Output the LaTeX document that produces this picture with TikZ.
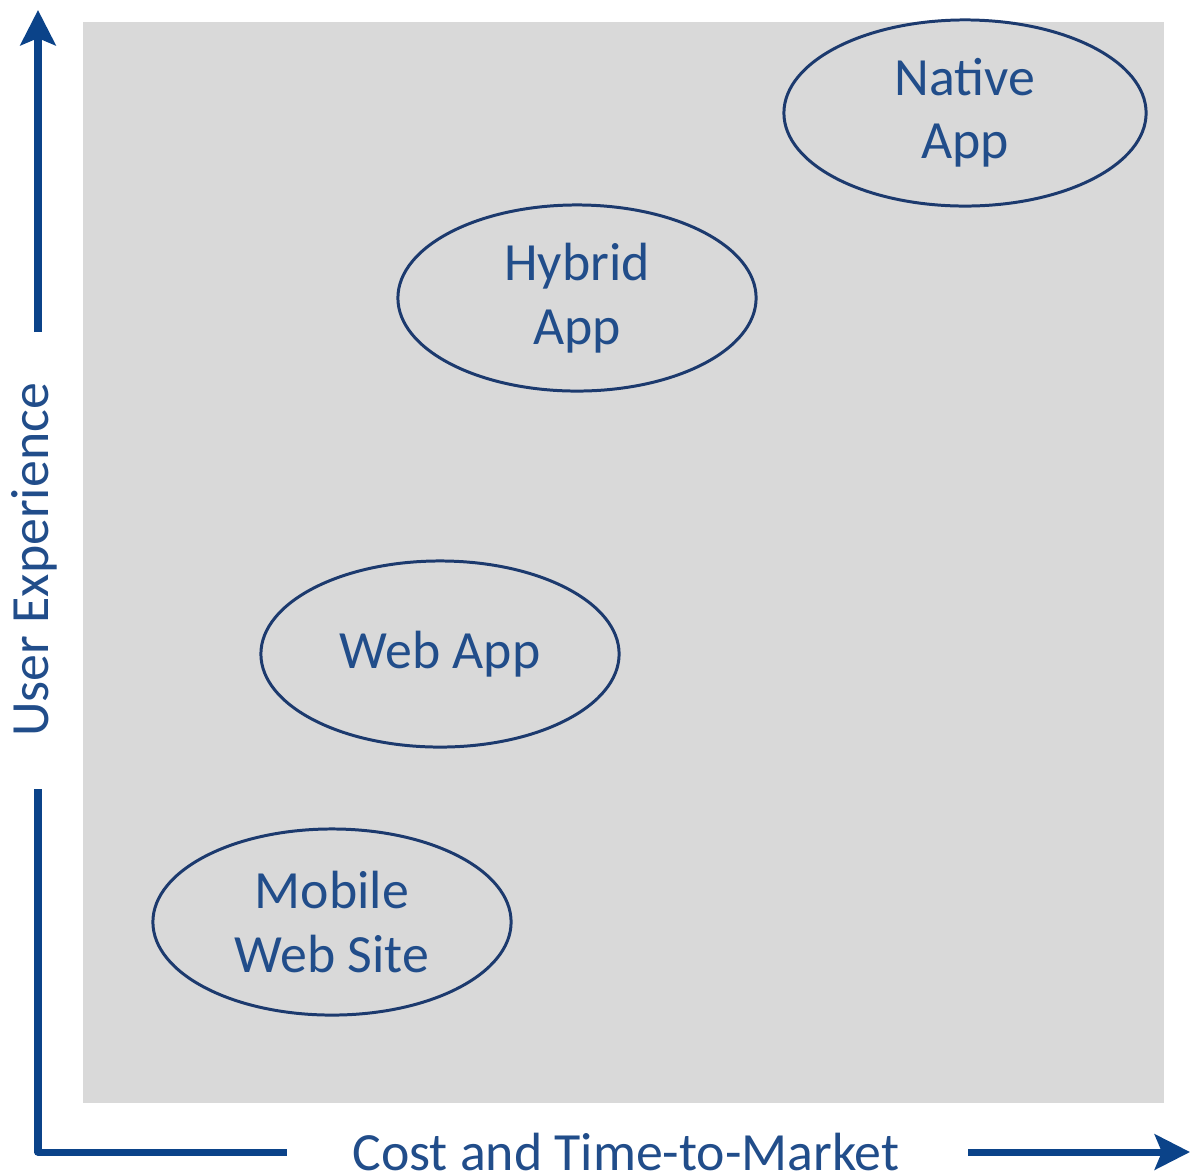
\documentclass[tikz,border=0pt]{standalone}
\usepackage{fontspec}
\setmainfont{Carlito}
\usetikzlibrary{arrows.meta,shapes.geometric}
\definecolor{axisblue}{HTML}{0B4389}
\definecolor{ringblue}{HTML}{1C3A6E}
\definecolor{textblue}{HTML}{214D8A}
\definecolor{panelgray}{HTML}{D9D9D9}
\tikzset{
  axis/.style={draw=axisblue,line width=2pt},
  lbl/.style={text=textblue,font=\fontsize{15.3}{18}\selectfont,align=center},
  app/.style={ellipse,draw=ringblue,line width=0.85pt,lbl,
    minimum width=3.58cm,minimum height=1.86cm,inner sep=0pt},
}
\begin{document}
\begin{tikzpicture}[line join=round,>={Stealth[length=10pt,width=10pt,inset=2pt]},x=0.01cm,y=-0.01cm]
\useasboundingbox (0,0) rectangle (1192,1175);
\fill[panelgray] (83,22) rectangle (1164,1103);
% axes
\coordinate (O) at (38,1152);
\coordinate (ytop) at (38,10);
\coordinate (xend) at (1190,1152);
\coordinate (ylo) at (38,792);
\coordinate (yhi) at (38,332);
\coordinate (xlo) at (283,1152);
\coordinate (xhi) at (968,1152);
\node[lbl,rotate=90,inner sep=0pt] (ux) at (34,560) {User Experience};
\node[lbl,inner sep=0pt,anchor=base] (cost) at (626,1170) {Cost and Time-to-Market};
\draw[axis,line cap=rect] (ylo) -- (O) -- (xlo);
\draw[axis,->] (yhi) -- (ytop);
\draw[axis,->] (xhi) -- (xend);
% apps
\node[app,minimum width=3.62cm] (native) at (965,113) {Native\\App};
\node[app] (hybrid) at (577,298) {Hybrid\\App};
\node[app] (webapp) at (440,654) {Web App};
\node[app] (mobile) at (332,922) {Mobile\\Web Site};
\end{tikzpicture}
\end{document}
